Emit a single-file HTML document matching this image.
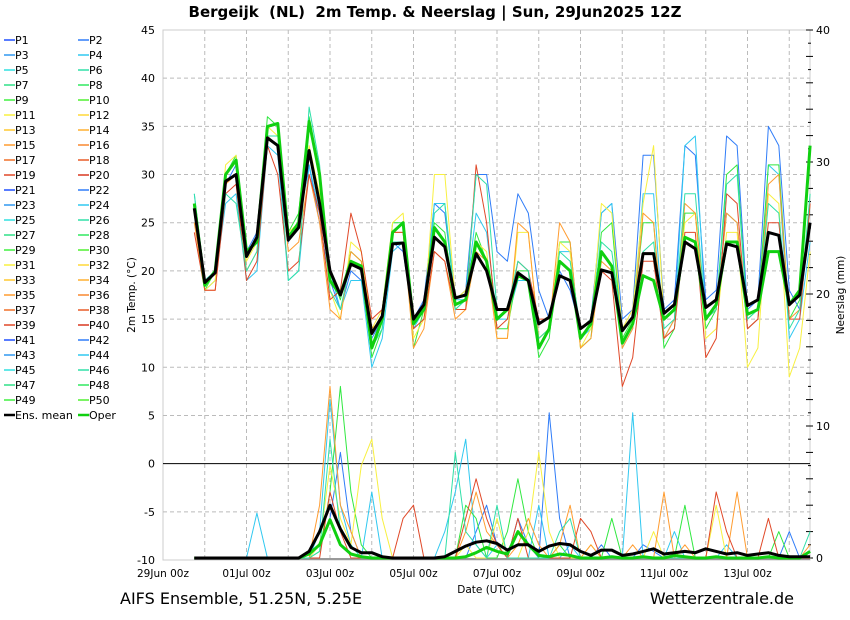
<!DOCTYPE html>
<html><head><meta charset="utf-8">
<style>
html,body{margin:0;padding:0;background:#fff;}
svg{display:block;font-family:"DejaVu Sans","Liberation Sans",sans-serif;}
</style></head>
<body>
<svg id="chart" width="850" height="620" viewBox="0 0 850 620" xmlns="http://www.w3.org/2000/svg">
<text x="435" y="17" text-anchor="middle" font-size="15" font-weight="bold" xml:space="preserve" style="white-space:pre">Bergeijk  (NL)  2m Temp. &amp; Neerslag | Sun, 29Jun2025 12Z</text>
<text x="120" y="604" font-size="16">AIFS Ensemble, 51.25N, 5.25E</text>
<text x="794" y="604" font-size="16" text-anchor="end">Wetterzentrale.de</text>
<text x="135" y="295" font-size="10.5" text-anchor="middle" transform="rotate(-90 135 295)">2m Temp. (°C)</text>
<text x="844" y="295" font-size="10.5" text-anchor="middle" transform="rotate(-90 844 295)">Neerslag (mm)</text>
<text x="486" y="593" font-size="10.5" text-anchor="middle">Date (UTC)</text>
<g id="grid"></g><g id="axes"></g><g id="series"></g><g id="legend"></g>
</svg>
<script>
const tempTicks=[-10,-5,0,5,10,15,20,25,30,35,40,45];
const precTicks=[0,10,20,30,40];
const dayLabels=["29Jun 00z","01Jul 00z","03Jul 00z","05Jul 00z","07Jul 00z","09Jul 00z","11Jul 00z","13Jul 00z"];
const meanT=[26.5,18.8,19.8,29.3,30.0,21.5,23.5,33.8,33.0,23.2,24.5,32.5,27.0,20.0,17.5,20.7,20.2,13.5,15.3,22.8,22.9,15.0,16.5,23.5,22.5,17.2,17.5,21.8,20.0,16.0,16.0,19.8,19.0,14.5,15.2,19.5,19.0,14.0,14.8,20.1,19.8,13.8,15.2,21.8,21.8,15.6,16.5,23.0,22.3,16.2,17.0,22.8,22.5,16.4,17.0,24.0,23.7,16.5,17.5,25.0];
const operT=[27,18.5,20,30,31.5,22,23,35,35.3,23.5,25,35.5,30,19,17.5,21,20.5,12,15,24,25,14.5,16,24.5,23,16.5,17,23,21,15,16,19.5,19,12,14,21,20,13,14.5,22,20.5,12.5,14.5,19.5,19,15,16,23.5,23,15,16.5,23,23,15.5,16,22,22,16.5,18,33];
const memT1=[26,19,20,29,31,22,24,34,33,23,25,31,25,19,16,20,19,13,15,23,22,15,17,27,26,17,18,30,30,22,21,28,26,18,15,20,18,14,15,26,27,15,16,32,32,16,17,33,32,17,18,34,33,16,17,35,33,18,16,25];
const memT2=[28,18,19,27,28,19,20,33,32,19,20,31,26,20,16,19,19,10,13,22,23,14,16,27,27,17,17,26,24,15,15,19,19,12,14,22,22,13,14,26,27,12,14,28,28,13,15,33,34,15,16,26,25,14,15,31,30,13,15,23];
const memT3=[27,18,20,30,32,22,23,36,35,24,26,36,30,20,17,22,21,11,14,25,25,12,16,25,24,16,17,24,21,14,14,20,20,11,13,23,23,12,13,24,25,13,15,25,25,12,14,26,26,14,16,30,31,15,16,31,31,15,17,32];
const memT4=[26,18,19,31,32,21,23,35,34,24,25,33,28,18,15,23,22,14,16,25,26,13,15,30,30,17,18,23,22,13,13,24,24,13,14,23,22,12,14,27,26,14,16,27,33,15,16,25,26,13,14,24,24,10,12,28,27,9,12,22];
const memT5=[25,18,18,29,30,20,22,34,33,22,23,30,25,16,15,22,21,14,15,24,24,12,14,22,21,15,16,22,21,13,13,25,24,13,14,25,23,12,13,21,20,12,14,26,25,13,15,27,26,15,16,26,25,14,15,29,30,15,16,27];
const memT6=[24,18,18,28,29,19,21,33,30,20,21,30,26,17,18,26,22,15,16,24,24,14,15,22,21,16,16,31,25,14,15,21,20,15,15,21,20,14,15,20,19,8,11,21,21,13,14,24,24,11,13,28,27,14,15,25,25,15,15,27];
const memT7=[28,19,20,28,27,20,22,34,34,19,20,37,31,18,16,21,20,12,14,23,23,15,16,26,27,16,17,30,29,16,16,21,20,13,14,22,21,14,15,23,22,14,15,22,23,14,15,28,28,15,16,29,30,15,16,27,26,14,16,28];
const meanP=[0,0,0,0,0,0,0,0,0,0,0,0.5,2.0,4.0,2.2,0.8,0.4,0.4,0.1,0,0,0,0,0,0.1,0.5,0.9,1.2,1.3,1.1,0.6,1.0,1.0,0.5,0.9,1.1,1.0,0.5,0.2,0.6,0.6,0.2,0.3,0.5,0.7,0.3,0.4,0.5,0.4,0.7,0.5,0.3,0.4,0.2,0.3,0.4,0.2,0.1,0.1,0.1];
const operP=[0,0,0,0,0,0,0,0,0,0,0,0.3,1.0,2.9,1.0,0.3,0.1,0,0,0,0,0,0,0,0,0,0.1,0.4,0.8,0.5,0.3,2.0,1.0,0.2,0.1,0.3,0.2,0,0,0,0.1,0,0,0.1,0,0,0.2,0.1,0,0,0.1,0,0,0,0,0.1,0,0,0,0.5];
const memP1=[0,0,0,0,0,0,0,0,0,0,0,0,1,3,8,2,0,0,0,0,0,0,0,0,0,0,0,2,4,1,0,3,1,0,11,3,0,0,0,1,0,0,0,1,0.5,0,0,0,0,0,0,0,0,0,0,0,0,2,0,0];
const memP2=[0,0,0,0,0,0,3.4,0,0,0,0,0,2,12,4,1,0,5,0,0,0,0,0,0,2,5,9,1,0,1,0,0,0,4,0,0,1,0,0,0,0,0,11,0,0,0,2,0,0,0,0,1,0,0,0,0,0,0,0,0];
const memP3=[0,0,0,0,0,0,0,0,0,0,0,0,0.5,5,13,5,1,0,0,0,0,0,0,0,0,0,4,3,0,0,2,6,2,0,0,1,0,0,0,0,3,0,0,0,0,0,0,4,0,0,0,0,0,0,0,0,2,0,0,0];
const memP4=[0,0,0,0,0,0,0,0,0,0,0,0,1,7,3,1,7,9,3,0,0,0,0,0,0,0,1,0,0,3,0,0,2,8,2,0,0,0,1,0,0,0,0,0,2,0,0,0,0,0,4,0,0,0,0,0,0,0,0,0];
const memP5=[0,0,0,0,0,0,0,0,0,0,0,0,4,13,4,2,0,0,0,0,0,0,0,0,0,0,2,5,2,1,0,1,3,1,0,1,4,0,1,0,0,0,1,0,0,5,0,1,0,0,0,0,5,0,0,0,0,0,0,1];
const memP6=[0,0,0,0,0,0,0,0,0,0,0,0,0,5,2,0,0,0,0,0,3,4,0,0,0,0,3,6,3,1,0,3,0,0,0,0,0,3,2,0,0,0,0,0,0,0,0,0,0,0,5,2,0,0,0,3,0,0,0,0];
const memP7=[0,0,0,0,0,0,0,0,0,0,0,0,0.5,9,2,1,0,0,0,0,0,0,0,0,0,8,2,1,0,4,0,0,0,0,0,2,3,0,0,0,0,0,0,0,0,0,0,0,0,0,0,0,0,0,0,0,0,0,0,2];
const palette=['#2050ff','#2f7cf8','#3098f0','#30c8f0','#30e0e0','#30e0a8','#30e088','#30e860','#40f040','#50f030','#f8f040','#ffd838','#ffc830','#ffb030','#ff9c30','#f88830','#f07028','#e85c28','#e04828','#d83820'];

const NS="http://www.w3.org/2000/svg";
const X0=163,X1=810,Y0=30,Y1=560;
const yT=v=>Y1-(v+10)*(Y1-Y0)/55;
const yP=v=>558-v*(558-Y0)/40;
const dayX=d=>X0+d*41.75;
const xI=i=>dayX(0.75+i*0.25);
function mk(tag,attrs,parent){const e=document.createElementNS(NS,tag);for(const k in attrs)e.setAttribute(k,attrs[k]);parent.appendChild(e);return e;}
const grid=document.getElementById('grid'),axes=document.getElementById('axes'),ser=document.getElementById('series'),leg=document.getElementById('legend');

mk('rect',{x:X0,y:Y0,width:X1-X0,height:Y1-Y0,fill:'none',stroke:'#ccc','stroke-width':1},grid);
tempTicks.forEach(t=>{
  const y=yT(t);
  if(t>-10&&t<45&&t!==0){const l=mk('line',{x1:X0,x2:X1,y1:y,y2:y,stroke:'#bbb','stroke-dasharray':'4,3'},grid);
  
  }
  const tx=mk('text',{x:155,y:y+4,'font-size':11,'text-anchor':'end'},axes);
  tx.textContent=t;
  
  
});
for(let d=1;d<=15;d+=1){
  const x=dayX(d);
  const l=mk('line',{x1:x,x2:x,y1:Y0,y2:Y1,stroke:'#bbb','stroke-dasharray':'4,3'},grid);
  
  
}
dayLabels.forEach((s,i)=>{
  const tx=mk('text',{x:dayX(i*2),y:577,'font-size':10.5,'text-anchor':'middle'},axes);
  tx.textContent=s;
  
  
});
const zl=mk('line',{x1:X0,x2:X1,y1:yT(0),y2:yT(0),stroke:'#000','stroke-width':1},axes);


const bl=mk('line',{x1:xI(0),x2:X1,y1:Y1-1,y2:Y1-1,stroke:'#999','stroke-width':2},axes);


for(let m=0;m<=40;m+=1){
  const y=yP(m);
  mk('line',{x1:X1-(m%2?2:4),x2:X1+(m%2?1:3),y1:y,y2:y,stroke:'#000','stroke-width':1},axes);
}
precTicks.forEach(p=>{
  const tx=mk('text',{x:816,y:yP(p)+4,'font-size':11},axes);
  tx.textContent=p;
  
  
});

function line(arr,yf,color,w,name){
  const pts=arr.map((v,i)=>xI(i).toFixed(1)+','+yf(v).toFixed(1)).join(' ');
  const p=mk('polyline',{points:pts,fill:'none',stroke:color,'stroke-width':w,'stroke-linejoin':'round'},ser);
  
  
}
const memTs=[memT1,memT2,memT3,memT4,memT5,memT6,memT7];
const memPs=[memP1,memP2,memP3,memP4,memP5,memP6,memP7];
const memColors=['#2f7cf8','#30c8f0','#30e840','#f8f040','#ff9c30','#e04828','#30e0a8'];
memTs.forEach((a,k)=>line(a,yT,memColors[k],1,'member-temp-line'));
memPs.forEach((a,k)=>line(a,yP,memColors[k],1,'member-precip-line'));
line(operT,yT,'#10d010',3,'oper-temp-line');
line(operP,yP,'#10d010',3,'oper-precip-line');
line(meanT,yT,'#000',3,'mean-temp-line');
line(meanP,yP,'#000',3,'mean-precip-line');

const labels=[];for(let i=1;i<=50;i++)labels.push('P'+i);labels.push('Ens. mean');labels.push('Oper');
labels.forEach((s,i)=>{
  const col=i%2,row=Math.floor(i/2);
  const x=col?78:4,y=40+row*15;
  const c=s==='Ens. mean'?'#000':(s==='Oper'?'#10d010':palette[(i)%20]);
  const g=mk('g',{},leg);
  
  
  mk('line',{x1:x,x2:x+11,y1:y,y2:y,stroke:c,'stroke-width':s.length>3?2.5:1.5},g);
  const tx=mk('text',{x:x+11,y:y+4,'font-size':11},g);
  tx.textContent=s;
});
</script>
</body></html>
